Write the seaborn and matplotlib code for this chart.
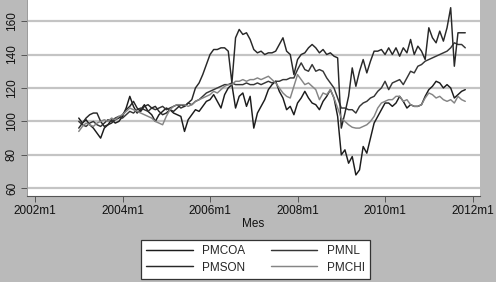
import numpy as np
import pandas as pd
import seaborn as sns
import matplotlib.pyplot as plt

# ===== datos (índices mensuales, 2003m1 - 2011m11) =====
series = ["PMCOA", "PMNL", "PMSON", "PMCHI"]

pmcoa = [102, 99, 101, 98, 96, 93, 90, 96, 98, 101, 99, 100,
         103, 108, 115, 109, 105, 107, 110, 106, 104, 100, 104, 106,
         108, 107, 105, 104, 103, 94, 101, 104, 107, 106, 109, 112,
         113, 116, 112, 108, 116, 120, 122, 108, 115, 117, 109, 115,
         96, 105, 109, 113, 119, 122, 124, 118, 114, 107, 109, 104,
         111, 114, 118, 114, 111, 110, 107, 112, 115, 119, 114, 103,
         80, 83, 75, 79, 68, 71, 85, 81, 90, 99, 103, 107,
         111, 111, 109, 111, 115, 112, 108, 110, 109, 109, 110, 115,
         119, 121, 124, 123, 120, 122, 120, 114, 116, 118, 119]

pmnl = [100, 98, 97, 99, 100, 98, 97, 99, 101, 100, 102, 103,
        102, 104, 106, 105, 107, 108, 107, 106, 108, 107, 108, 109,
        107, 108, 109, 110, 108, 109, 111, 110, 112, 113, 115, 117,
        118, 119, 120, 121, 122, 122, 123, 122, 122, 122, 123, 122,
        122, 123, 122, 123, 124, 123, 124, 124, 125, 125, 126, 126,
        131, 135, 131, 130, 134, 130, 131, 130, 126, 123, 120, 114,
        108, 108, 107, 107, 105, 109, 111, 112, 114, 115, 118, 120,
        124, 119, 123, 124, 125, 122, 126, 130, 129, 133, 134, 136,
        137, 138, 139, 140, 141, 142, 144, 147, 146, 146, 144]

pmson = [96, 99, 102, 104, 105, 105, 100, 97, 98, 99, 101, 102,
         104, 107, 109, 112, 108, 106, 109, 110, 108, 109, 106, 104,
         105, 107, 106, 108, 110, 109, 111, 113, 120, 123, 128, 134,
         140, 143, 143, 144, 144, 142, 123, 150, 155, 152, 153, 149,
         143, 141, 142, 140, 141, 141, 142, 146, 150, 142, 140, 128,
         137, 140, 141, 144, 146, 144, 141, 143, 140, 141, 139, 138,
         96, 105, 115, 132, 121, 130, 137, 129, 136, 142, 142, 143,
         140, 144, 140, 144, 139, 144, 141, 149, 140, 145, 142, 137,
         156, 150, 147, 154, 148, 156, 168, 133, 153, 153, 153]

pmchi = [94, 97, 99, 98, 97, 99, 100, 101, 100, 102, 101, 103,
         104, 106, 108, 107, 106, 105, 104, 103, 102, 100, 99, 98,
         103, 107, 109, 110, 110, 110, 109, 110, 112, 113, 114, 115,
         116, 118, 117, 119, 121, 122, 122, 124, 124, 125, 124, 125,
         125, 126, 125, 126, 127, 125, 123, 120, 117, 115, 114, 121,
         128, 125, 122, 123, 121, 119, 113, 117, 116, 119, 114, 108,
         102, 100, 98, 96.5, 96, 96, 97, 98, 100, 103, 108, 111,
         112, 113, 113, 115, 115, 112, 113, 110, 109, 109, 110, 114,
         117, 116, 114, 115, 113, 112, 113, 111, 115, 113, 112]

meses = pd.period_range("2003-01", "2011-11", freq="M")
t = meses.year + (meses.month - 1) / 12

df = pd.DataFrame({"t": t, "PMCOA": pmcoa, "PMNL": pmnl,
                   "PMSON": pmson, "PMCHI": pmchi})
df = df.melt(id_vars="t", var_name="serie", value_name="valor")

anios = [2002, 2004, 2006, 2008, 2010, 2012]
yticks = [60, 80, 100, 120, 140, 160]

colores = {"PMCOA": "#1c1c1c", "PMNL": "#363636", "PMSON": "#282828", "PMCHI": "#858585"}

# ===== estilo =====
sns.set_theme(style="white")
plt.rcParams["font.family"] = ["Liberation Sans", "DejaVu Sans"]
fondo = "#bababa"

fig = plt.figure(figsize=(4.96, 2.82), dpi=100, facecolor=fondo)
ax = fig.add_axes([27 / 496, 1 - 196 / 282, 453 / 496, 196 / 282])
ax.set_facecolor("white")

sns.lineplot(data=df, x="t", y="valor", hue="serie", hue_order=series,
             palette=colores, linewidth=1.05, legend=False, ax=ax)

ax.set_xlim(2001.817, 2012.17)
ax.set_ylim(55.4, 172.6)
ax.set_yticks(yticks)
ax.set_yticklabels([str(v) for v in yticks], rotation=90, va="center")
ax.set_xticks(anios)
ax.set_xticklabels([f"{a}m1" for a in anios])
ax.yaxis.grid(True, color="#c4c4c4", linewidth=1.6)
ax.set_axisbelow(True)

for s in ["top", "right"]:
    ax.spines[s].set_visible(False)
ax.spines["left"].set_color("#9a9a9a")
ax.spines["left"].set_linewidth(0.7)
ax.spines["bottom"].set_color("#555555")
ax.spines["bottom"].set_linewidth(0.8)

ax.tick_params(axis="both", which="major", length=4, width=0.7, color="#555555",
               labelsize=8.5, labelcolor="#111111", pad=2.5, left=True, bottom=True)

ax.set_xlabel("Mes", fontsize=8.5, color="#111111", labelpad=1)
ax.set_ylabel("")

# ===== leyenda =====
lineas = dict(zip(series, ax.get_lines()))
orden = ["PMCOA", "PMSON", "PMNL", "PMCHI"]
leg = fig.legend([lineas[s] for s in orden], orden, ncol=2, loc="center",
                 bbox_to_anchor=(255.5 / 496, 1 - 259.5 / 282), fontsize=8.5,
                 frameon=True, fancybox=False, framealpha=1, edgecolor="#333333",
                 handlelength=3.9, columnspacing=2.2, handletextpad=0.8,
                 labelspacing=0.35, borderpad=0.45)
leg.get_frame().set_linewidth(0.9)

fig.savefig("out.png", dpi=100, facecolor=fondo)
